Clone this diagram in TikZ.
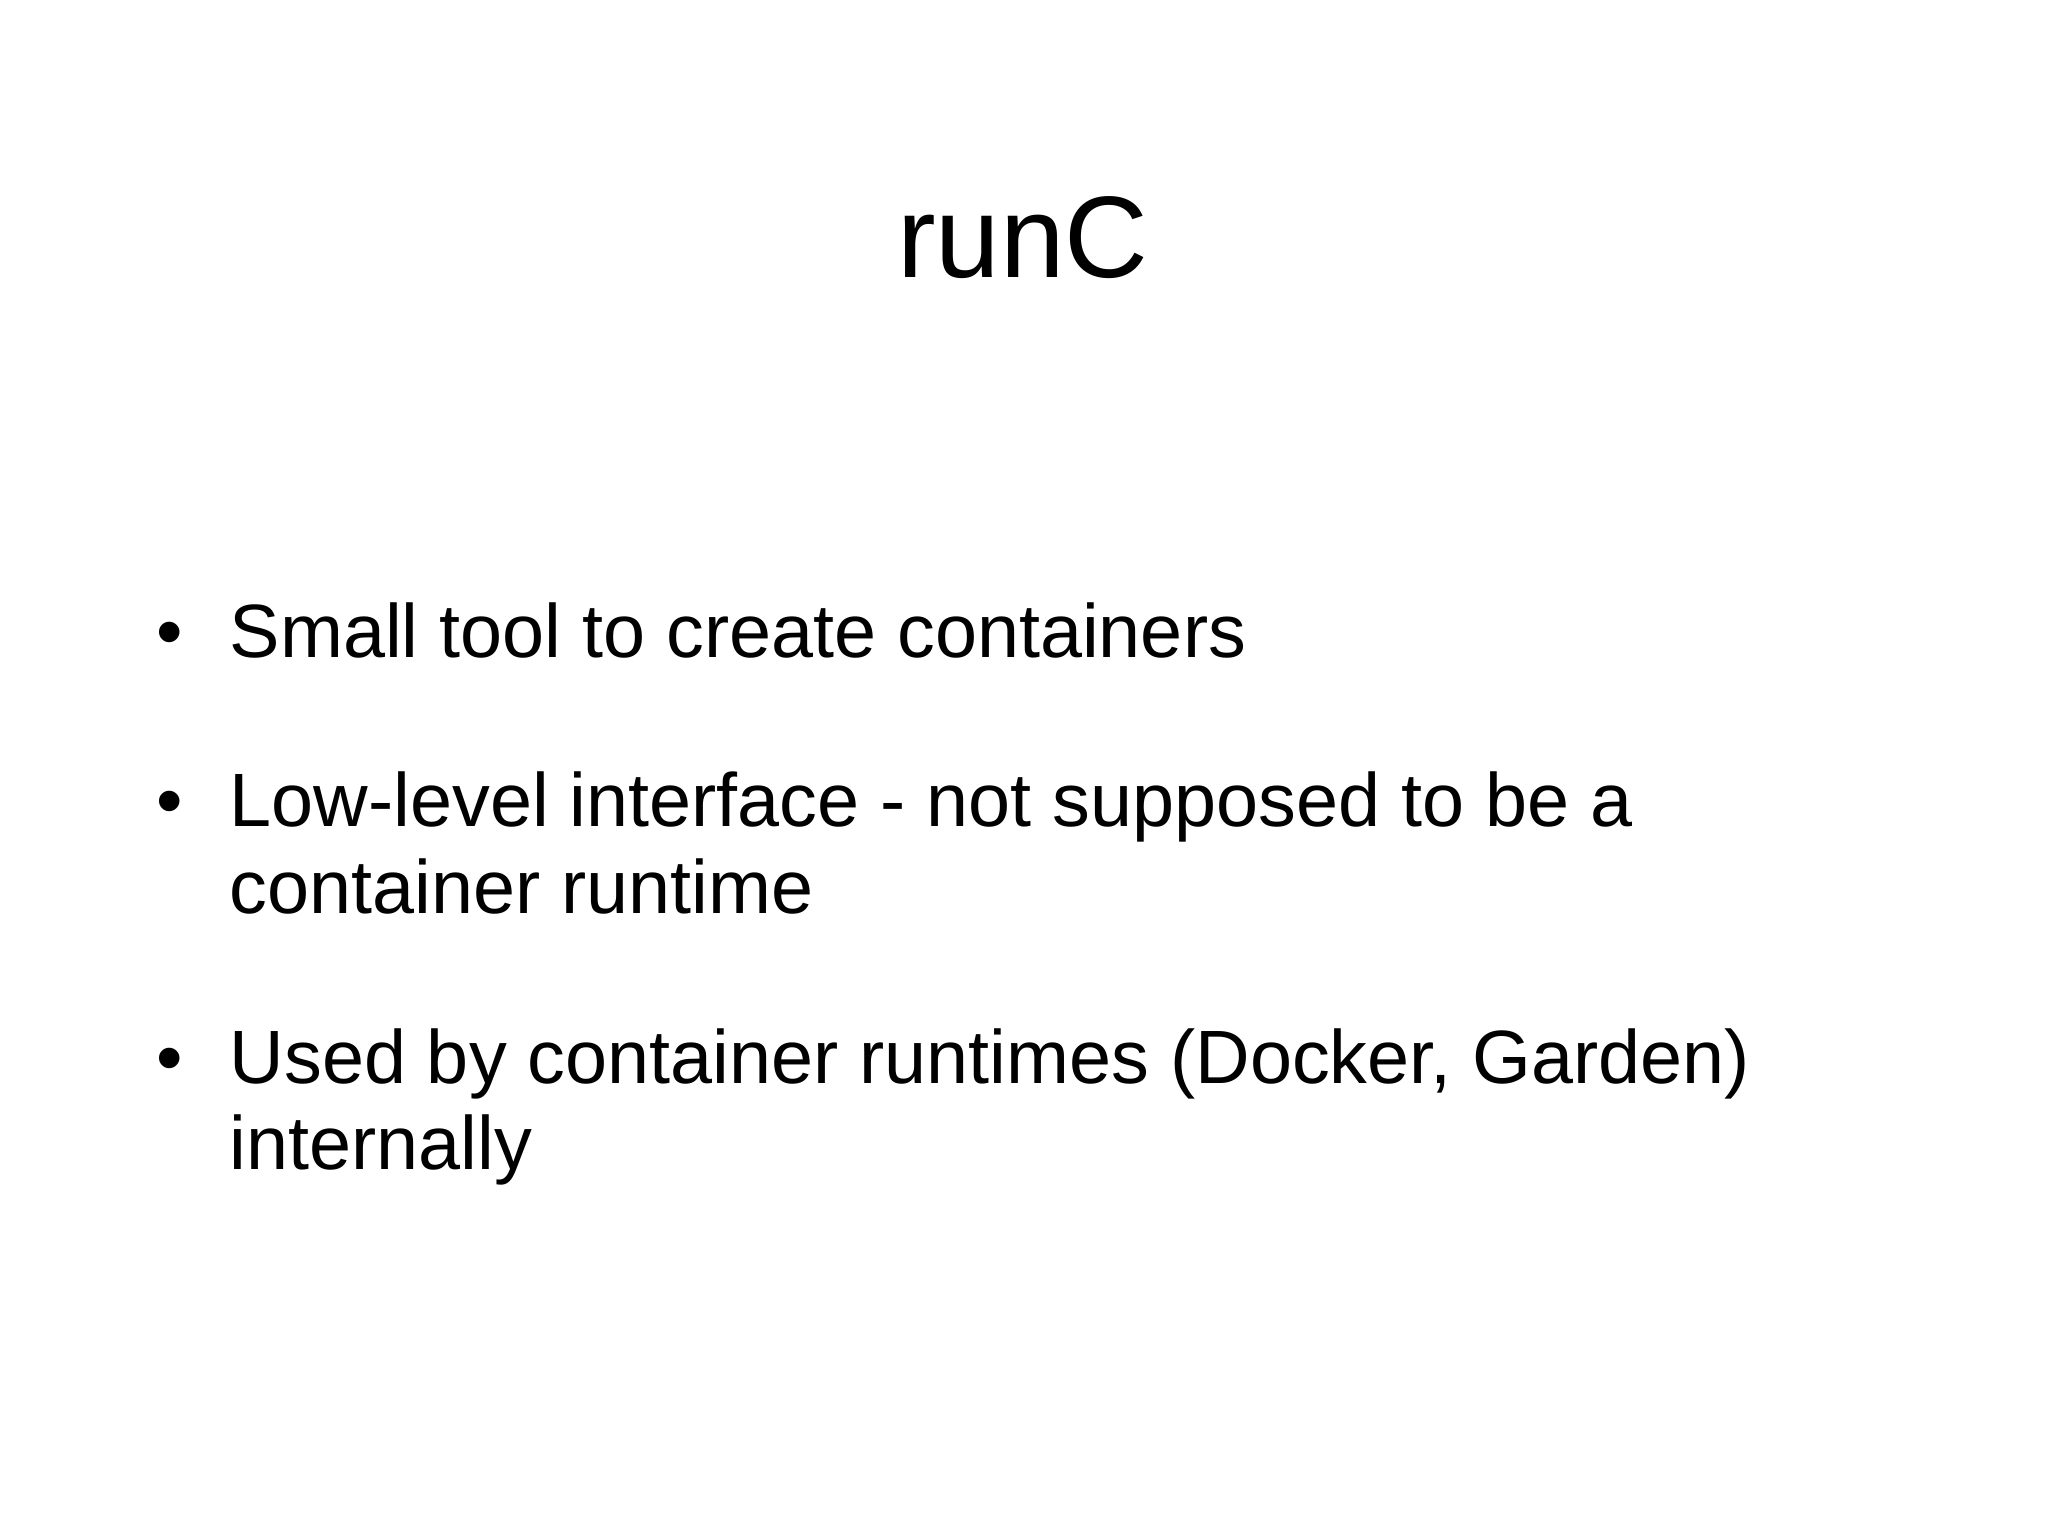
\documentclass[tikz,border=0pt]{standalone}
\usepackage{fontspec}
\setmainfont{Liberation Sans}
\begin{document}
\begin{tikzpicture}[x=1cm,y=1cm,
  txt/.style={anchor=base west,inner sep=0pt,font=\fontsize{21.5}{26}\selectfont},
  bul/.style={anchor=base,inner sep=0pt,font=\fontsize{21.5}{26}\selectfont}]
\useasboundingbox[fill=white] (0,0) rectangle (20.48,-15.36);
\node[anchor=base,inner sep=0pt,font=\fontsize{33}{40}\selectfont] (title) at (10.23,-2.78) {runC};
\node[bul] (b1) at (1.70,-6.57) {•};
\node[txt] (l1) at (2.29,-6.57) {Small tool to create containers};
\node[bul] (b2) at (1.70,-8.27) {•};
\node[txt] (l2) at (2.29,-8.27) {Low-level interface - not supposed to be a};
\node[txt] (l2b) at (2.29,-9.13) {container runtime};
\node[bul] (b3) at (1.70,-10.83) {•};
\node[txt] (l3) at (2.29,-10.83) {Used by container runtimes (Docker, Garden)};
\node[txt] (l3b) at (2.29,-11.69) {internally};
\end{tikzpicture}
\end{document}
